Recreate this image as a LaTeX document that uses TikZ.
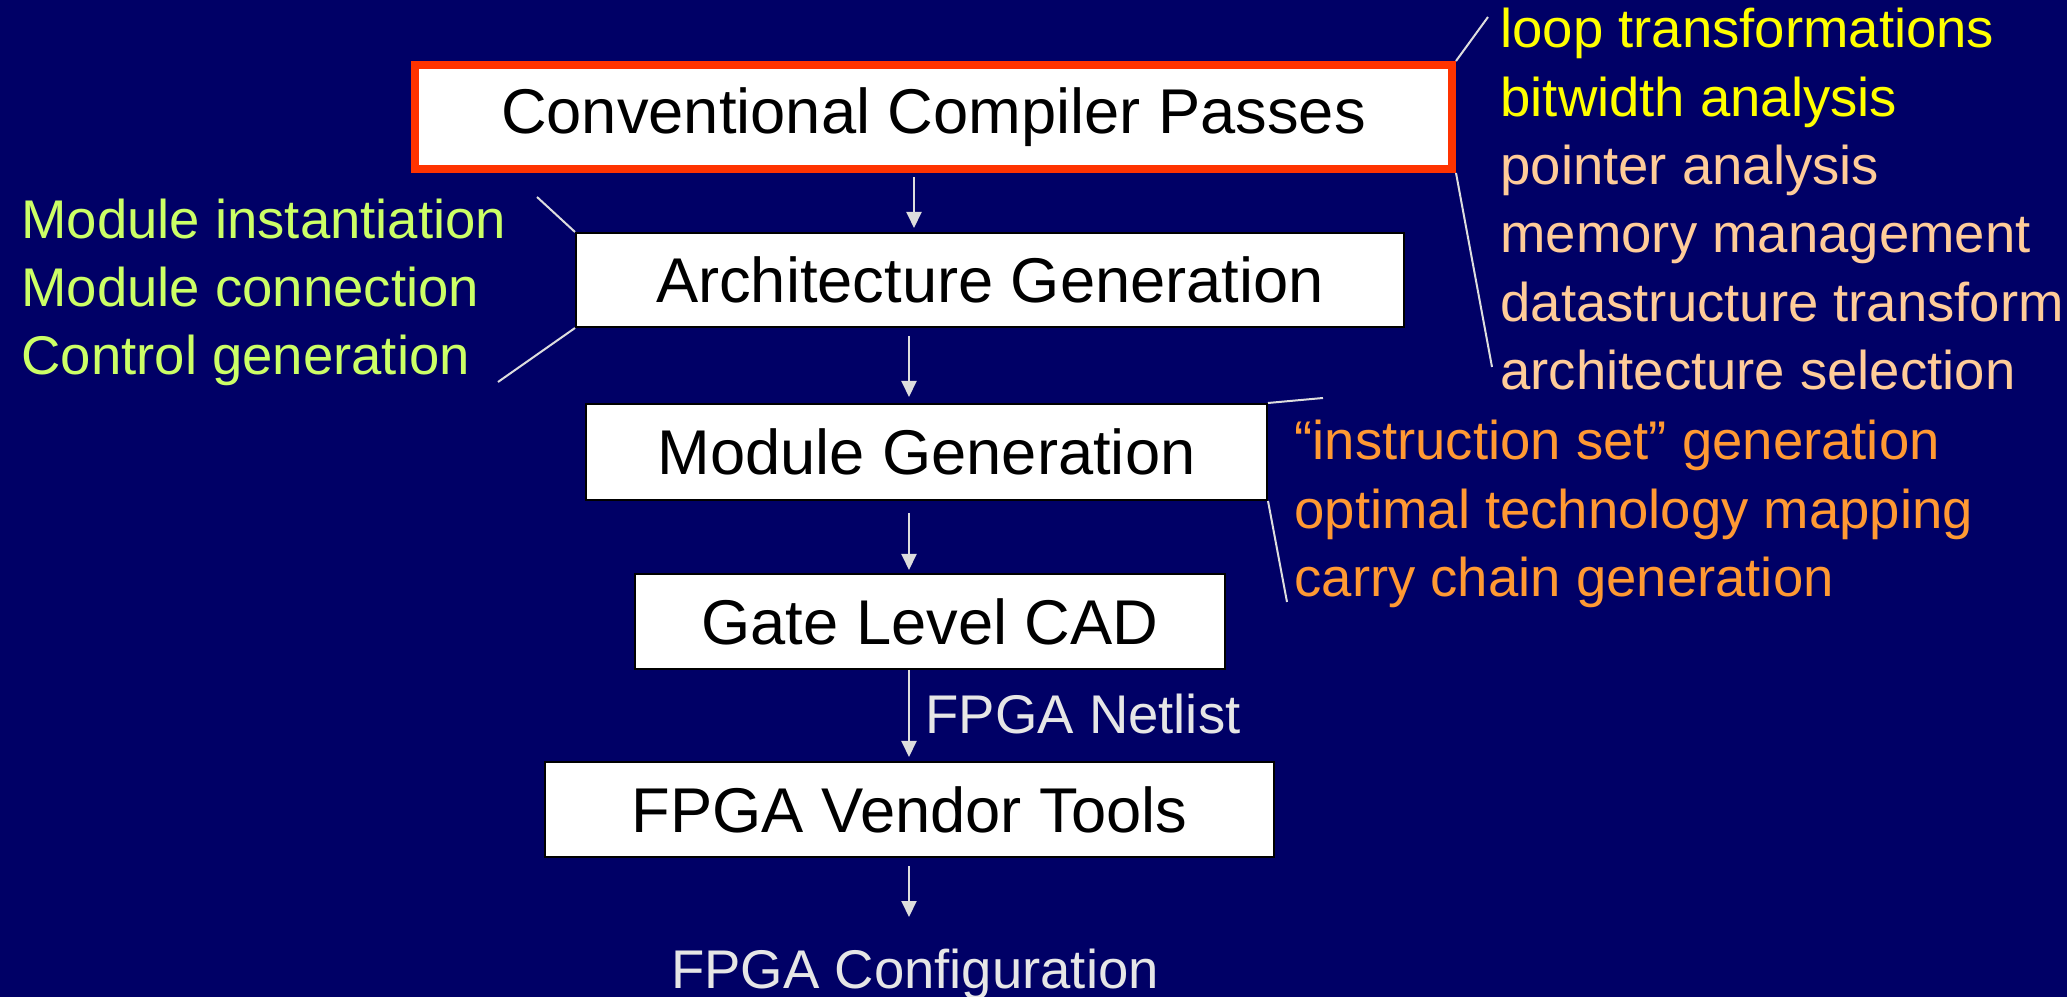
\documentclass[tikz,border=0pt]{standalone}
\usepackage{fontspec}
\setmainfont{Liberation Sans}
\usetikzlibrary{arrows.meta}
\definecolor{bg}{HTML}{000066}
\definecolor{redb}{HTML}{FF3300}
\definecolor{lineg}{HTML}{DDDDDD}
\definecolor{yel}{HTML}{FFFF00}
\definecolor{peach}{HTML}{FFCC99}
\definecolor{grn}{HTML}{CCFF66}
\definecolor{org}{HTML}{FF9933}
\definecolor{lgray}{HTML}{E6E6E6}
\begin{document}
\begin{tikzpicture}[x=0.4pt,y=-0.4pt,
  box/.style={draw=black,line width=0.8pt,fill=white,inner sep=0pt,text=black,font=\fontsize{25.3}{30}\selectfont},
  lbl/.style={anchor=base west,inner sep=0pt,font=\fontsize{21.8}{26}\selectfont},
  flow/.style={draw=lineg,line width=0.8pt,-{Triangle[width=6pt,length=6.4pt]}},
  lead/.style={draw=lineg,line width=0.8pt}]
\fill[bg] (0,0) rectangle (2067,997);
\useasboundingbox (0,0) rectangle (2067,997);

% boxes
\node[box,draw=redb,line width=3.2pt,minimum width=414.8pt,minimum height=41.6pt] (b1) at (933.5,117) {Conventional Compiler Passes};
\node[box,minimum width=331.2pt,minimum height=37.6pt] (b2) at (990,280) {Architecture Generation};
\node[box,minimum width=272.4pt,minimum height=38.4pt] (b3) at (926.5,452) {Module Generation};
\node[box,minimum width=236pt,minimum height=38pt] (b4) at (930,621.5) {Gate Level CAD};
\node[box,minimum width=291.6pt,minimum height=38pt] (b5) at (909.5,809.5) {FPGA Vendor Tools};
\node[lbl,anchor=base,text=lgray] (cfg) at (915,988) {FPGA Configuration};

% flow arrows
\coordinate (ax1) at (914,0);
\coordinate (ax) at (909,0);
\draw[flow] ([yshift=-1.6pt]b1.south -| ax1) -- ([yshift=1.6pt]b2.north -| ax1);
\draw[flow] ([yshift=-3.2pt]b2.south -| ax) -- ([yshift=2.4pt]b3.north -| ax);
\draw[flow] ([yshift=-4.8pt]b3.south -| ax) -- ([yshift=1.2pt]b4.north -| ax);
\draw[flow] (b4.south -| ax) -- ([yshift=1.6pt]b5.north -| ax);
\draw[flow] ([yshift=-3.2pt]b5.south -| ax) -- ([yshift=12.4pt]cfg.north -| ax);
\node[lbl,text=lgray] (net) at (925,734) {FPGA Netlist};

% leader lines
\coordinate (l1a) at (1488,17);
\coordinate (l1b) at (1492,367);
\draw[lead] (b1.north east) -- (l1a);
\draw[lead] (b1.south east) -- (l1b);
\coordinate (l2a) at (537,197);
\coordinate (l2b) at (498,382);
\draw[lead] (l2a) -- (b2.north west);
\draw[lead] (b2.south west) -- (l2b);
\coordinate (l3a) at (1323,398);
\coordinate (l3b) at (1287,602);
\draw[lead] (b3.north east) -- (l3a);
\draw[lead] (b3.south east) -- (l3b);

% right labels
\node[lbl,text=yel] (r1) at (1500,48) {loop transformations};
\node[lbl,text=yel] (r2) at (1500,117) {bitwidth analysis};
\node[lbl,text=peach] (r3) at (1500,185) {pointer analysis};
\node[lbl,text=peach] (r4) at (1500,253) {memory management};
\node[lbl,text=peach] (r5) at (1500,322) {datastructure transform};
\node[lbl,text=peach] (r6) at (1500,390) {architecture selection};

% left labels
\node[lbl,text=grn] (g1) at (21,239) {Module instantiation};
\node[lbl,text=grn] (g2) at (21,307) {Module connection};
\node[lbl,text=grn] (g3) at (21,375) {Control generation};

% orange labels
\node[lbl,text=org] (o1) at (1294,460) {“instruction set” generation};
\node[lbl,text=org] (o2) at (1294,529) {optimal technology mapping};
\node[lbl,text=org] (o3) at (1294,597) {carry chain generation};
\end{tikzpicture}
\end{document}
